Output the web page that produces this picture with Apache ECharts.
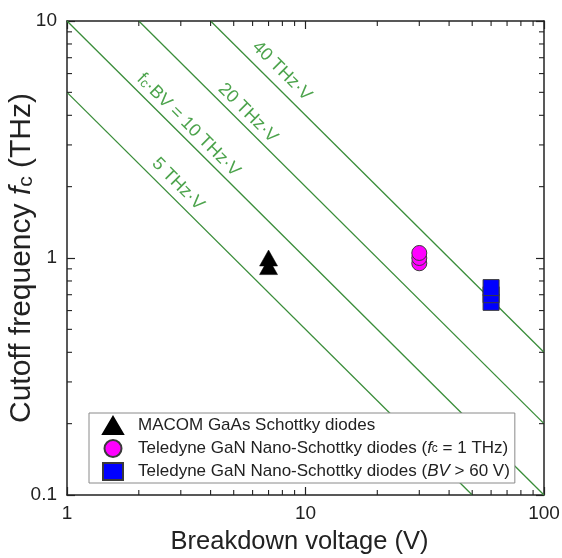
<!DOCTYPE html>
<html><head><meta charset="utf-8">
<script src="https://cdn.jsdelivr.net/npm/echarts@6/dist/echarts.min.js"></script>
<style>html,body{margin:0;padding:0;background:#fff}#c{width:562px;height:558px}</style>
</head><body><div id="c"></div>
<script>
// ---- data ----
const macomBV = [7, 7];
const macomFc = [0.92, 1.0];
const tdFc1BV = [30, 30, 30];
const tdFc1Fc = [0.95, 1.0, 1.05];
const tdBv60BV = [60, 60, 60];
const tdBv60Fc = [0.65, 0.7, 0.75];

const line5 = [[1, 5], [50, 0.1]];
const line10 = [[1, 10], [100, 0.1]];
const line20 = [[2, 10], [100, 0.2]];
const line40 = [[4, 10], [100, 0.4]];

const isoLabels = ['5 THz·V', '{n|f}{s|c}·BV = 10 THz·V', '20 THz·V', '40 THz·V'];
const isoLabelAnchorX = [2.92, 3.23, 5.74, 7.97];
const isoLabelAnchorY = [2.05, 3.64, 4.09, 6.15];

const minorX = [2, 3, 4, 5, 6, 7, 8, 9, 20, 30, 40, 50, 60, 70, 80, 90];
const minorY = [0.2, 0.3, 0.4, 0.5, 0.6, 0.7, 0.8, 0.9, 2, 3, 4, 5, 6, 7, 8, 9];

const seriesNames = ['MACOM GaAs Schottky diodes',
  'Teledyne GaN Nano-Schottky diodes (fc = 1 THz)',
  'Teledyne GaN Nano-Schottky diodes (BV > 60 V)'];
const legendLabels = ['MACOM GaAs Schottky diodes',
  'Teledyne GaN Nano-Schottky diodes ({i|f}{s|c} = 1 THz)',
  'Teledyne GaN Nano-Schottky diodes ({i|BV} > 60 V)'];

// ---- chart ----
const chart = echarts.init(document.getElementById('c'), null, {renderer: 'canvas'});
const FONT = 'Liberation Sans, Arial, sans-serif';
const axisCol = '#222';
const green = '#3a8d3a';
const greenText = '#1f8c1f';

function zip(a, b) { return a.map((v, i) => [v, b[i]]); }

const baseX = {
  type: 'log', logBase: 10, min: 1, max: 100,
  axisLine: {show: true, lineStyle: {color: axisCol, width: 1.5}},
  axisTick: {show: true, inside: true, length: 8, lineStyle: {color: axisCol, width: 1.2}},
  splitLine: {show: false},
  minorTick: {show: false},
  nameMoveOverlap: false
};
const baseY = {
  type: 'log', logBase: 10, min: 0.1, max: 10,
  axisLine: {show: true, lineStyle: {color: axisCol, width: 1.5}},
  axisTick: {show: true, inside: true, length: 8, lineStyle: {color: axisCol, width: 1.2}},
  splitLine: {show: false},
  minorTick: {show: false},
  nameMoveOverlap: false
};

function minorXRender(params, api) {
  const cs = params.coordSys;
  const px = api.coord([api.value(0), 1])[0];
  const yb = cs.y + cs.height, yt = cs.y;
  const st = {stroke: axisCol, lineWidth: 1.1};
  return {type: 'group', children: [
    {type: 'line', shape: {x1: px, y1: yb, x2: px, y2: yb - 5}, style: st},
    {type: 'line', shape: {x1: px, y1: yt, x2: px, y2: yt + 5}, style: st}
  ]};
}
function minorYRender(params, api) {
  const cs = params.coordSys;
  const py = api.coord([1, api.value(1)])[1];
  const xl = cs.x, xr = cs.x + cs.width;
  const st = {stroke: axisCol, lineWidth: 1.1};
  return {type: 'group', children: [
    {type: 'line', shape: {x1: xl, y1: py, x2: xl + 5, y2: py}, style: st},
    {type: 'line', shape: {x1: xr, y1: py, x2: xr - 5, y2: py}, style: st}
  ]};
}

function isoLine(data) {
  return {type: 'line', data: data, showSymbol: false, symbol: 'none', silent: true,
    lineStyle: {color: green, width: 1.3}, z: 1, animation: false};
}

const option = {
  animation: false,
  backgroundColor: '#fff',
  textStyle: {fontFamily: FONT},
  grid: {left: 67, right: 18, top: 21, bottom: 63, containLabel: false, outerBoundsMode: 'none'},
  xAxis: [
    Object.assign({}, baseX, {
      position: 'bottom',
      axisLabel: {show: true, fontSize: 19, color: axisCol, margin: 9, fontFamily: FONT},
      name: 'Breakdown voltage (V)', nameLocation: 'middle', nameGap: 34,
      nameTextStyle: {fontSize: 25.5, color: axisCol, fontFamily: FONT, padding: [0, 12, 0, 0]}
    }),
    Object.assign({}, baseX, {position: 'top', axisLabel: {show: false}})
  ],
  yAxis: [
    Object.assign({}, baseY, {
      position: 'left',
      axisLabel: {show: true, fontSize: 19, color: axisCol, margin: 10, fontFamily: FONT},
      name: 'Cutoff frequency {i|f}{s|c} (THz)', nameLocation: 'middle', nameGap: 30,
      nameTextStyle: {fontSize: 30, color: axisCol, fontFamily: FONT,
        rich: {
          i: {fontSize: 30, fontStyle: 'italic', color: axisCol, fontFamily: FONT},
          s: {fontSize: 21, color: axisCol, fontFamily: FONT, verticalAlign: 'bottom', padding: [7, 0, 0, 0]}
        }}
    }),
    Object.assign({}, baseY, {position: 'right', axisLabel: {show: false}})
  ],
  legend: {
    data: seriesNames,
    orient: 'vertical',
    left: 89, top: 413,
    backgroundColor: '#fff',
    borderColor: '#8a8a8a', borderWidth: 1, borderRadius: 0,
    padding: [3, 5, 2, 13],
    itemWidth: 20, itemHeight: 17, itemGap: 4,
    symbolKeepAspect: true,
    selectedMode: false,
    formatter: function (name) { return legendLabels[seriesNames.indexOf(name)]; },
    textStyle: {fontSize: 17, color: axisCol, fontFamily: FONT, lineHeight: 18, padding: [0, 0, 0, 10],
      rich: {
        i: {fontSize: 17, fontStyle: 'italic', color: axisCol, fontFamily: FONT, lineHeight: 18},
        s: {fontSize: 12, color: axisCol, fontFamily: FONT, lineHeight: 18}
      }}
  },
  series: [
    isoLine(line5), isoLine(line10), isoLine(line20), isoLine(line40),
    {
      type: 'scatter', silent: true, symbolSize: 0, z: 3,
      data: isoLabelAnchorX.map((x, i) => ({value: [x, isoLabelAnchorY[i]],
        label: {formatter: isoLabels[i]}})),
      label: {show: true, position: 'inside', rotate: -45, color: greenText, fontSize: 18,
        fontFamily: FONT, align: 'center', verticalAlign: 'middle',
        rich: {
          n: {fontSize: 18, color: greenText, fontFamily: FONT},
          s: {fontSize: 13, color: greenText, fontFamily: FONT, padding: [4, 0, 0, 0]}
        }}
    },
    {type: 'custom', silent: true, renderItem: minorXRender, clip: false, z: 5,
      data: minorX.map(v => [v, 1]), encode: {x: 0, y: 1}},
    {type: 'custom', silent: true, renderItem: minorYRender, clip: false, z: 5,
      data: minorY.map(v => [1, v]), encode: {x: 0, y: 1}},
    {
      name: seriesNames[0], type: 'scatter', symbol: 'triangle', symbolSize: [18, 16], z: 6,
      itemStyle: {color: '#000', borderColor: '#000', borderWidth: 0.5, opacity: 1},
      data: zip(macomBV, macomFc)
    },
    {
      name: seriesNames[1], type: 'scatter', symbol: 'circle', symbolSize: 15, z: 6,
      itemStyle: {color: '#ff00ff', borderColor: '#3a3a3a', borderWidth: 1, opacity: 1},
      data: zip(tdFc1BV, tdFc1Fc)
    },
    {
      name: seriesNames[2], type: 'scatter', symbol: 'rect', symbolSize: 16, z: 6,
      itemStyle: {color: '#0000ff', borderColor: '#3a3a3a', borderWidth: 1, opacity: 1},
      data: zip(tdBv60BV, tdBv60Fc)
    }
  ]
};
chart.setOption(option);
</script>
</body></html>
